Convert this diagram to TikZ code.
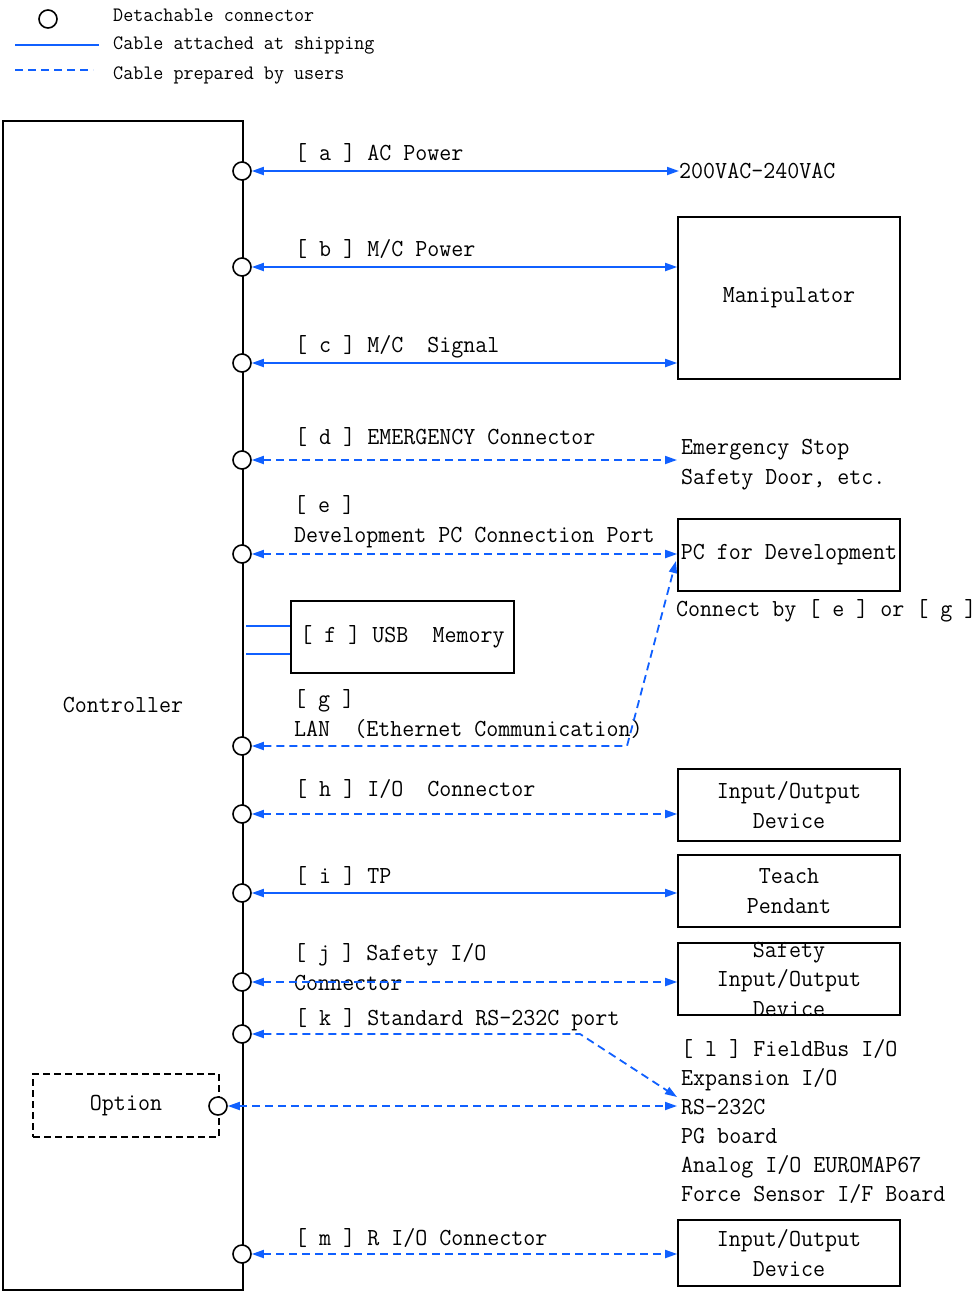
\documentclass[tikz,border=0pt]{standalone}
\usepackage{fontspec}
\setmainfont[FakeStretch=0.952]{Latin Modern Mono}
\usetikzlibrary{arrows.meta}
\definecolor{cableblue}{RGB}{16,96,255}
\tikzset{
  jack/.style={draw, circle, line width=1.6pt, fill=white, minimum size=18pt, inner sep=0pt},
  shipped/.style={draw=cableblue, line width=1.8pt},
  usercable/.style={shipped, dash pattern=on 8pt off 5pt},
  twoway/.style={{Triangle[length=12pt,width=8pt]}-{Triangle[length=12pt,width=8pt]}},
  devbox/.style={draw, line width=1.6pt, minimum width=222pt, minimum height=72pt, inner sep=0pt, align=center},
  lbl/.style={anchor=base west, inner sep=0pt, align=left},
  keytext/.style={lbl, font=\fontsize{20.5pt}{28pt}\selectfont},
}
\begin{document}
\begin{tikzpicture}[x=1pt, y=-1pt, font=\fontsize{24.5pt}{29.5pt}\selectfont]
\useasboundingbox (0,0) rectangle (976,1291);
% legend
\node(key)[jack] at (48,19) {};
\coordinate (s1) at (15,45);
\coordinate (s2) at (99,45);
\coordinate (u1) at (15,70);
\coordinate (u2) at (93,70);
\draw[shipped] (s1) -- (s2);
\draw[usercable] (u1) -- (u2);
\node(k1)[keytext] at (113,21) {Detachable connector};
\node(k2)[keytext] at (113,49) {Cable attached at shipping};
\node(k3)[keytext] at (113,79) {Cable prepared by users};

% controller and its option slot
\node(ctrl)[draw, line width=1.6pt, minimum width=240pt, minimum height=1169pt] at (123,705.5) {Controller};
\node(opt)[draw, line width=1.4pt, dash pattern=on 7pt off 4pt, minimum width=186pt, minimum height=63pt] at (126,1105.5) {Option};

% devices on the right (multi-line labels sit on their last baseline)
\node(acv)[lbl] at (679,178) {200VAC-240VAC};
\node(manip)[devbox, minimum height=162pt] at (789,298) {Manipulator};
\node(estop)[lbl] at (681,484) {Emergency Stop\\Safety Door, etc.};
\node(pc)[devbox] at (789,555) {PC for Development};
\node(via)[lbl] at (676,616) {Connect by [ e ] or [ g ]};
\node(io)[devbox] at (789,805) {Input/Output\\Device};
\node(tp)[devbox] at (789,891) {Teach\\Pendant};
\node(safe)[devbox] at (789,979) {};
\node(safetxt)[align=center] at (safe) {Safety\\Input/Output\\Device};
\node(fb)[lbl, font=\fontsize{24.5pt}{29pt}\selectfont] at (681,1201) {[ l ] FieldBus I/O\\Expansion I/O\\RS-232C\\PG board\\Analog I/O EUROMAP67\\Force Sensor I/F Board};
\node(io2)[devbox, minimum height=66pt] at (789,1253) {Input/Output\\Device};
\node(usb)[draw, line width=1.6pt, minimum width=223pt, minimum height=72pt] at (402.5,637) {[ f ] USB\ \ Memory};

% cable labels
\node(la)[lbl] at (295,160) {[ a ] AC Power};
\node(lb)[lbl] at (295,256) {[ b ] M/C Power};
\node(lc)[lbl] at (295,352) {[ c ] M/C\ \ Signal};
\node(ld)[lbl] at (295,444) {[ d ] EMERGENCY Connector};
\node(le)[lbl] at (294,542) {[ e ]\\Development PC Connection Port};
\node(lg)[lbl] at (294,736) {[ g ]\\LAN\ \ (Ethernet Communication)};
\node(lh)[lbl] at (295,796) {[ h ] I/O\ \ Connector};
\node(li)[lbl] at (295,883) {[ i ] TP};
\node(lj)[lbl] at (294,990) {[ j ] Safety I/O\\Connector};
\node(lk)[lbl] at (295,1025) {[ k ] Standard RS-232C port};
\node(lm)[lbl] at (295,1245) {[ m ] R I/O Connector};

% connectors
\node(a)[jack] at (242,171) {};
\node(b)[jack] at (242,267) {};
\node(c)[jack] at (242,363) {};
\node(d)[jack] at (242,460) {};
\node(e)[jack] at (242,554) {};
\node(g)[jack] at (242,746) {};
\node(h)[jack] at (242,814) {};
\node(i)[jack] at (242,893) {};
\node(j)[jack] at (242,982) {};
\node(k)[jack] at (242,1034) {};
\node(o)[jack] at (218,1106) {};
\node(m)[jack] at (242,1254) {};

% cables
\coordinate (dend) at (677,460);
\coordinate (gbend) at (627,746);
\coordinate (gend) at (676,561);
\coordinate (kbend) at (580,1034);
\coordinate (kend) at (677,1097);
\coordinate (oend) at (677,1106);
\coordinate (f1) at (246,626);
\coordinate (f2) at (246,654);
\draw[shipped, twoway] (a) -- (a -| acv.west);
\draw[shipped, twoway] (b) -- (b -| manip.west);
\draw[shipped, twoway] (c) -- (c -| manip.west);
\draw[usercable, twoway] (d) -- (dend);
\draw[usercable, twoway] (e) -- (e -| pc.west);
\draw[shipped] (f1) -- (f1 -| usb.west);
\draw[shipped] (f2) -- (f2 -| usb.west);
\draw[usercable, twoway] (g) -- (gbend) -- (gend);
\draw[usercable, twoway] (h) -- (h -| io.west);
\draw[shipped, twoway] (i) -- (i -| tp.west);
\draw[usercable, twoway] (j) -- (j -| safe.west);
\draw[usercable, twoway] (k) -- (kbend) -- (kend);
\draw[usercable, twoway] (o) -- (oend);
\draw[usercable, twoway] (m) -- (m -| io2.west);
\end{tikzpicture}
\end{document}
